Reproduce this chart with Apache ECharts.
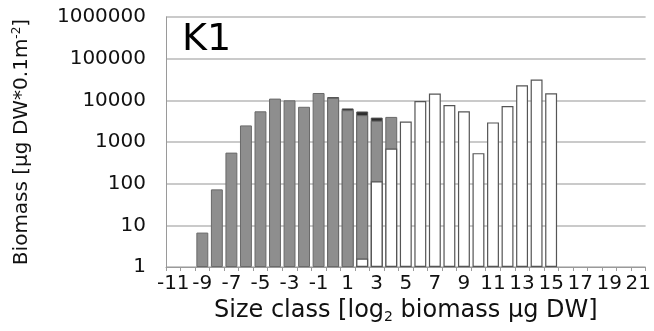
<!DOCTYPE html>
<html>
<head>
<meta charset="utf-8">
<script src="https://cdn.jsdelivr.net/npm/echarts@6/dist/echarts.min.js"></script>
<style>
  html, body { margin: 0; padding: 0; background: #fff; }
  #k1 { width: 654px; height: 331px; }
</style>
</head>
<body>
<div id="k1"></div>
<script>
// size classes, log2 biomass
var sizeClasses = ['-11','-10','-9','-8','-7','-6','-5','-4','-3','-2','-1','0','1','2','3','4',
                   '5','6','7','8','9','10','11','12','13','14','15','16','17','18','19','20','21'];

// dark top part (total of the grey group)
var darkVals = [null,null,null,null,null,null,null,null,null,null,null,
                12000,6400,5400,3850,null,
                null,null,null,null,null,null,null,null,null,null,null,null,null,null,null,null,null];

var greyVals = [null,null,6.7,73,556,2500,5450,11000,10000,7000,15000,
                11400,5800,4400,3250,4000,
                null,null,null,null,null,null,null,null,null,null,null,null,null,null,null,null,null];

var whiteVals = [null,null,null,null,null,null,null,null,null,null,null,
                 null,null,1.6,114,700,
                 3100,9600,14500,7700,5450,540,2950,7300,23000,31500,14700,null,null,null,null,null,null];

var yTicks = [1, 10, 100, 1000, 10000, 100000, 1000000];

function drawK1() {
    var myChart = echarts.init(document.getElementById('k1'));
    var fnt = 'DejaVu Sans';
    option = {
        animation: false,
        textStyle: { fontFamily: fnt },
        title: {
            text: 'K1',
            left: 177,
            top: 16,
            textStyle: { fontSize: 38, fontWeight: 'normal', color: '#000', fontFamily: fnt }
        },
        grid: {
            left: 166,
            right: 5,
            top: 17,
            bottom: 64
        },
        xAxis: {
            type: 'category',
            data: sizeClasses,
            name: '{t|Size class [log}{s|2}{t| biomass µg DW]}',
            nameLocation: 'middle',
            nameGap: 30,
            nameTextStyle: {
                rich: {
                    t: { fontSize: 24, color: '#111', fontFamily: fnt },
                    s: { fontSize: 14, color: '#111', fontFamily: fnt, padding: [12, 0, 0, 0] }
                }
            },
            axisLine: { lineStyle: { color: '#9a9a9a', width: 1 } },
            axisTick: { show: true, interval: 0, length: 4, lineStyle: { color: '#9a9a9a' } },
            axisLabel: {
                interval: 1,
                fontSize: 20,
                color: '#111',
                margin: 7
            },
            splitLine: { show: false }
        },
        yAxis: {
            type: 'log',
            logBase: 10,
            min: 1,
            max: 1000000,
            name: '{t|Biomass [µg DW*0.1m}{s|-2}{t|]}',
            nameLocation: 'middle',
            nameGap: 133,
            nameTextStyle: {
                rich: {
                    t: { fontSize: 20, color: '#111', fontFamily: fnt },
                    s: { fontSize: 12, color: '#111', fontFamily: fnt, padding: [0, 0, 10, 0] }
                }
            },
            axisLine: { show: true, lineStyle: { color: '#9a9a9a', width: 1 } },
            axisTick: { show: false },
            axisLabel: {
                fontSize: 20,
                color: '#111',
                margin: 20,
                formatter: function (v) { return yTicks.indexOf(v) >= 0 ? String(v) : ''; }
            },
            splitLine: { lineStyle: { color: '#b8b8b8', width: 1.5 } }
        },
        series: [
            {
                name: 'dark',
                type: 'bar',
                data: darkVals,
                barGap: '-100%',
                barCategoryGap: '18%',
                itemStyle: { color: '#2e2e2e', borderColor: '#555', borderWidth: 1 }
            },
            {
                name: 'grey',
                type: 'bar',
                data: greyVals,
                barGap: '-100%',
                barCategoryGap: '18%',
                itemStyle: { color: '#8e8e8e', borderColor: '#6a6a6a', borderWidth: 1 }
            },
            {
                name: 'white',
                type: 'bar',
                data: whiteVals,
                barGap: '-100%',
                barCategoryGap: '18%',
                itemStyle: { color: '#ffffff', borderColor: '#555', borderWidth: 1.2 }
            }
        ]
    };
    myChart.setOption(option, true);
}
drawK1();
</script>
</body>
</html>
